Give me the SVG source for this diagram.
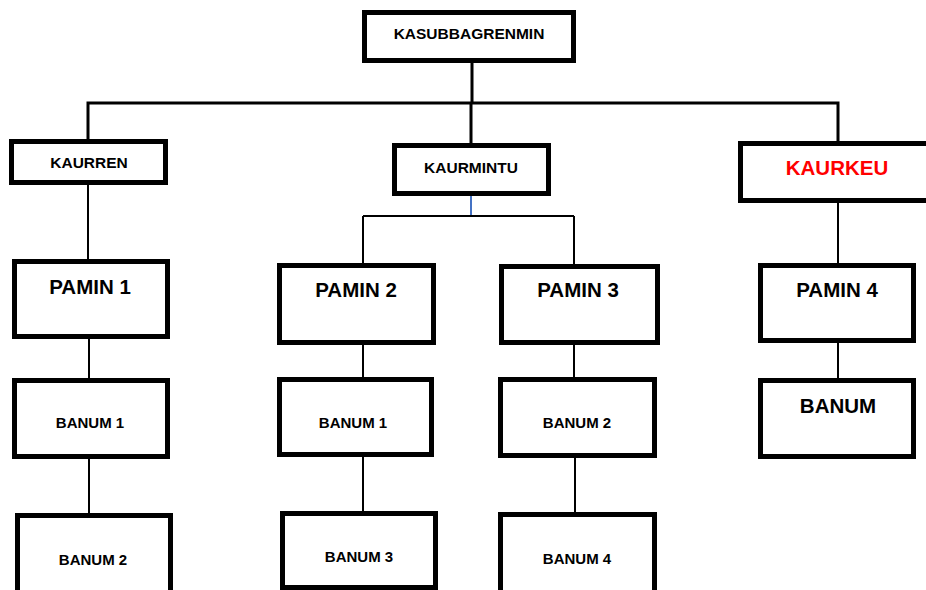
<svg xmlns="http://www.w3.org/2000/svg" width="926" height="590" viewBox="0 0 926 590">
  <style>
    .box { fill: #ffffff; stroke: #000000; stroke-width: 5; }
    .lbl { font-family: "Liberation Sans", Arial, sans-serif; font-weight: bold; text-anchor: middle; fill: #000000; }
    .sm { font-size: 15.5px; }
    .md { font-size: 15px; }
    .lg { font-size: 20.5px; }
    .red { fill: #ff0000; }
    .wire { fill: none; stroke: #000000; stroke-width: 2; }
    .trunk { fill: none; stroke: #000000; stroke-width: 3; stroke-linecap: square; }
    .blue { fill: none; stroke: #4472c4; stroke-width: 2; }
  </style>
  <rect width="926" height="590" fill="#ffffff"/>

  <!-- connectors -->
  <g id="connectors">
    <path class="trunk" d="M472,63 V103 M88,103 H838 M88,103 V139 M471,103 V143 M838,103 V141"/>
    <path class="wire" d="M88,185 V259"/>
    <path class="blue" d="M471,196 V216"/>
    <path class="wire" d="M363,216 H574 M363,216 V263 M574,216 V264"/>
    <path class="wire" d="M838,203 V263"/>
    <path class="wire" d="M89,339 V378 M363,345 V377 M574,345 V377 M838,343 V378"/>
    <path class="wire" d="M89,459 V513 M363,457 V511 M575,458 V512"/>
  </g>

  <!-- top level -->
  <g id="kasubbagrenmin">
    <rect class="box" x="364.5" y="12.5" width="209" height="48"/>
    <text class="lbl sm" x="469" y="39">KASUBBAGRENMIN</text>
  </g>

  <!-- second level -->
  <g id="kaurren">
    <rect class="box" x="11.5" y="141.5" width="154" height="41"/>
    <text class="lbl sm" x="89" y="168">KAURREN</text>
  </g>
  <g id="kaurmintu">
    <rect class="box" x="394.5" y="145.5" width="154" height="48"/>
    <text class="lbl sm" x="471" y="173">KAURMINTU</text>
  </g>
  <g id="kaurkeu">
    <rect class="box" x="740.5" y="143.5" width="190" height="57"/>
    <text class="lbl lg red" x="837" y="175">KAURKEU</text>
  </g>

  <!-- third level -->
  <g id="pamin1">
    <rect class="box" x="14.5" y="261.5" width="153" height="75"/>
    <text class="lbl lg" x="90" y="294">PAMIN 1</text>
  </g>
  <g id="pamin2">
    <rect class="box" x="279.5" y="265.5" width="154" height="77"/>
    <text class="lbl lg" x="356" y="297">PAMIN 2</text>
  </g>
  <g id="pamin3">
    <rect class="box" x="501.5" y="266.5" width="156" height="76"/>
    <text class="lbl lg" x="578" y="297">PAMIN 3</text>
  </g>
  <g id="pamin4">
    <rect class="box" x="760.5" y="265.5" width="153" height="75"/>
    <text class="lbl lg" x="837" y="297">PAMIN 4</text>
  </g>

  <!-- fourth level -->
  <g id="banum1-a">
    <rect class="box" x="14.5" y="380.5" width="153" height="76"/>
    <text class="lbl md" x="90" y="428">BANUM 1</text>
  </g>
  <g id="banum1-b">
    <rect class="box" x="279.5" y="379.5" width="152" height="75"/>
    <text class="lbl md" x="353" y="428">BANUM 1</text>
  </g>
  <g id="banum2-a">
    <rect class="box" x="500.5" y="379.5" width="154" height="76"/>
    <text class="lbl md" x="577" y="428">BANUM 2</text>
  </g>
  <g id="banum">
    <rect class="box" x="760.5" y="380.5" width="153" height="76"/>
    <text class="lbl lg" x="838" y="413">BANUM</text>
  </g>

  <!-- fifth level -->
  <g id="banum2-b">
    <rect class="box" x="17.5" y="515.5" width="153" height="80"/>
    <text class="lbl md" x="93" y="565">BANUM 2</text>
  </g>
  <g id="banum3">
    <rect class="box" x="282.5" y="513.5" width="153" height="74"/>
    <text class="lbl md" x="359" y="562">BANUM 3</text>
  </g>
  <g id="banum4">
    <rect class="box" x="500.5" y="514.5" width="154" height="80"/>
    <text class="lbl md" x="577" y="564">BANUM 4</text>
  </g>
</svg>
